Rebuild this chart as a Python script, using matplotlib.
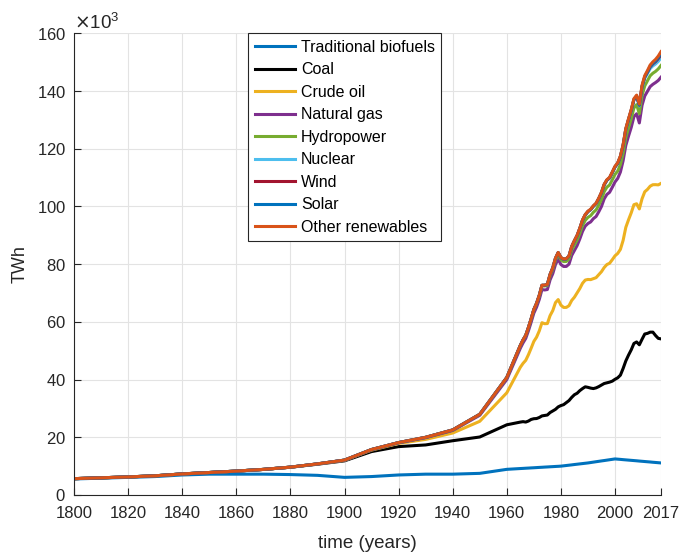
import numpy as np
import matplotlib
matplotlib.use('Agg')
import matplotlib.pyplot as plt

# world primary energy by source, thousand TWh
years = [1800, 1810, 1820, 1830, 1840, 1850, 1860, 1870, 1880, 1890,
         1900, 1910, 1920, 1930, 1940, 1950, 1960] + list(range(1965, 2018))

biofuels = [5.56, 5.83, 6.11, 6.39, 6.94, 7.22, 7.22, 7.22, 7.08, 6.81,
            6.11, 6.39, 6.94, 7.22, 7.22, 7.50, 8.89,
            9.17, 9.22, 9.28, 9.33, 9.39, 9.44, 9.50, 9.56, 9.61, 9.67,
            9.72, 9.78, 9.83, 9.89, 9.94, 10.00, 10.11, 10.22, 10.33, 10.44,
            10.56, 10.67, 10.78, 10.89, 11.00, 11.11, 11.25, 11.39, 11.53, 11.67,
            11.81, 11.94, 12.08, 12.22, 12.36, 12.50, 12.42, 12.34, 12.25, 12.17,
            12.09, 12.01, 11.93, 11.85, 11.76, 11.68, 11.60, 11.52, 11.44, 11.35,
            11.27, 11.19, 11.11]
coal = [0.10, 0.13, 0.15, 0.26, 0.36, 0.57, 1.06, 1.64, 2.54, 3.86,
        5.73, 8.66, 9.83, 10.13, 11.59, 12.60, 15.44,
        16.1, 16.2, 16.0, 16.3, 16.8, 17.0, 17.0, 17.3, 17.8, 17.9,
        18.0, 18.8, 19.3, 19.8, 20.6, 21.0, 21.2, 21.8, 22.4, 23.4,
        24.2, 24.6, 25.4, 26.0, 26.5, 26.2, 25.8, 25.5, 25.6, 25.9,
        26.3, 26.7, 26.8, 26.9, 27.1, 27.6, 28.2, 29.2, 31.6, 34.3,
        36.4, 38.3, 40.6, 41.2, 40.3, 42.3, 44.2, 44.5, 45.0, 45.1,
        44.0, 43.1, 43.0]
crude_oil = [0, 0, 0, 0, 0, 0, 0, 0.01, 0.03, 0.09,
             0.18, 0.50, 1.10, 1.92, 2.67, 5.44, 11.10,
             19.0, 20.2, 21.4, 23.0, 24.7, 26.8, 28.2, 30.0, 32.3, 31.8,
             31.7, 33.6, 34.8, 37.0, 37.2, 34.8, 33.7, 33.0, 32.9, 33.6,
             33.8, 34.8, 35.4, 36.5, 37.0, 37.4, 37.6, 38.1, 38.2, 38.8,
             39.3, 40.2, 41.0, 41.2, 42.1, 42.8, 43.1, 43.6, 44.4, 46.3,
             46.9, 47.5, 48.1, 47.9, 47.1, 48.7, 49.3, 49.9, 50.6, 51.1,
             52.3, 53.2, 53.9]
natural_gas = [0, 0, 0, 0, 0, 0, 0, 0, 0, 0.02,
               0.06, 0.16, 0.23, 0.60, 0.88, 2.09, 4.60,
               6.6, 7.1, 7.6, 8.3, 9.0, 9.8, 10.4, 10.9, 11.5, 11.7,
               11.8, 12.4, 12.8, 13.2, 14.0, 14.1, 14.2, 14.2, 14.4, 15.6,
               16.2, 16.4, 17.2, 18.0, 18.7, 19.4, 20.0, 20.8, 21.2, 21.8,
               22.6, 23.8, 24.3, 24.6, 25.1, 25.6, 26.0, 26.8, 27.6, 28.4,
               29.0, 29.6, 30.5, 31.2, 29.8, 32.4, 33.2, 34.0, 34.5, 34.8,
               35.4, 36.2, 36.8]
hydropower = [0, 0, 0, 0, 0, 0, 0, 0, 0, 0,
              0.01, 0.05, 0.07, 0.12, 0.19, 0.33, 0.69,
              0.92, 0.98, 1.00, 1.05, 1.10, 1.16, 1.20, 1.24, 1.27, 1.38,
              1.40, 1.42, 1.45, 1.55, 1.63, 1.66, 1.69, 1.73, 1.80, 1.86,
              1.90, 1.93, 1.96, 2.01, 2.01, 2.13, 2.18, 2.19, 2.28, 2.30,
              2.43, 2.48, 2.52, 2.54, 2.57, 2.62, 2.56, 2.61, 2.62, 2.77,
              2.88, 2.98, 3.02, 3.17, 3.19, 3.42, 3.49, 3.66, 3.77, 3.85,
              3.86, 4.00, 4.06]
nuclear = [0.0] * 17 + [
    0.03, 0.03, 0.04, 0.05, 0.06, 0.08, 0.11, 0.15, 0.20, 0.25,
    0.37, 0.43, 0.52, 0.61, 0.65, 0.71, 0.82, 0.89, 1.00, 1.20,
    1.43, 1.52, 1.66, 1.83, 1.89, 2.00, 2.10, 2.12, 2.19, 2.26,
    2.33, 2.41, 2.40, 2.44, 2.53, 2.58, 2.65, 2.70, 2.65, 2.77,
    2.77, 2.81, 2.75, 2.74, 2.70, 2.77, 2.65, 2.47, 2.49, 2.54,
    2.57, 2.61, 2.64]
wind = [0.0] * 37 + [
    0.0, 0.0, 0.0, 0.0, 0.0, 0.004, 0.004, 0.005, 0.006, 0.007,
    0.008, 0.010, 0.012, 0.016, 0.021, 0.031, 0.038, 0.052, 0.063, 0.085,
    0.104, 0.133, 0.171, 0.221, 0.277, 0.342, 0.437, 0.523, 0.637, 0.712,
    0.831, 0.962, 1.13]
solar = [0.0] * 47 + [
    0.0, 0.0, 0.0, 0.0, 0.0, 0.001, 0.001, 0.002, 0.002, 0.003,
    0.004, 0.006, 0.008, 0.012, 0.020, 0.032, 0.064, 0.100, 0.139, 0.190,
    0.250, 0.330, 0.440]
other_renewables = [0.0] * 17 + [
    0.02, 0.02, 0.02, 0.02, 0.03, 0.03, 0.03, 0.03, 0.03, 0.04,
    0.04, 0.04, 0.04, 0.05, 0.05, 0.06, 0.06, 0.07, 0.07, 0.08,
    0.10, 0.11, 0.11, 0.12, 0.12, 0.13, 0.13, 0.14, 0.14, 0.15,
    0.16, 0.17, 0.17, 0.18, 0.19, 0.20, 0.20, 0.21, 0.22, 0.24,
    0.26, 0.27, 0.30, 0.32, 0.34, 0.38, 0.42, 0.44, 0.47, 0.50,
    0.52, 0.55, 0.59]

names = ['Traditional biofuels', 'Coal', 'Crude oil', 'Natural gas', 'Hydropower',
         'Nuclear', 'Wind', 'Solar', 'Other renewables']
colors = ['#0072BD', '#000000', '#EDB120', '#7E2F8E', '#77AC30',
          '#4DBEEE', '#A2142F', '#0072BD', '#D95319']

sources = np.array([biofuels, coal, crude_oil, natural_gas, hydropower,
                    nuclear, wind, solar, other_renewables]) * 1e3
stacked = np.cumsum(sources, axis=0)

plt.rcParams['font.family'] = ['Liberation Sans', 'DejaVu Sans']
fig = plt.figure(figsize=(6.81, 5.53), dpi=100)
ax = fig.add_axes([0.1087, 0.1049, 0.8619, 0.8347])

for k in range(len(names)):
    ax.plot(years, stacked[k], color=colors[k], lw=2.2, label=names[k])

ax.set_xlim(1800, 2017)
ax.set_ylim(0, 160000)
ax.set_xticks([1800, 1820, 1840, 1860, 1880, 1900, 1920, 1940, 1960, 1980, 2000, 2017])
ax.set_yticks(np.arange(0, 160001, 20000))
ax.ticklabel_format(axis='y', style='sci', scilimits=(3, 3), useMathText=True)
ax.yaxis.get_offset_text().set_fontsize(13.5)
ax.yaxis.get_offset_text().set_color('#262626')

ax.grid(True, color='#e3e3e3', lw=0.8)
ax.set_axisbelow(True)
for s in ['top', 'right']:
    ax.spines[s].set_visible(False)
for s in ['left', 'bottom']:
    ax.spines[s].set_color('#262626')
    ax.spines[s].set_linewidth(0.8)
ax.tick_params(direction='in', length=5, width=0.8, colors='#262626',
               labelsize=12, top=False, right=False)
ax.tick_params(axis='x', pad=8)
ax.tick_params(axis='y', pad=6)

ax.set_xlabel('time (years)', fontsize=13.5, color='#262626', labelpad=10)
ax.set_ylabel('TWh', fontsize=13, color='#262626', labelpad=6)

leg = ax.legend(loc='upper left', bbox_to_anchor=(0.297, 1.0), fontsize=11.5,
                frameon=True, fancybox=False, framealpha=1, edgecolor='#262626',
                handlelength=2.5, handletextpad=0.4, labelspacing=0.47,
                borderpad=0.4, borderaxespad=0)
leg.get_frame().set_linewidth(0.8)

plt.savefig('out.png', dpi=100)
